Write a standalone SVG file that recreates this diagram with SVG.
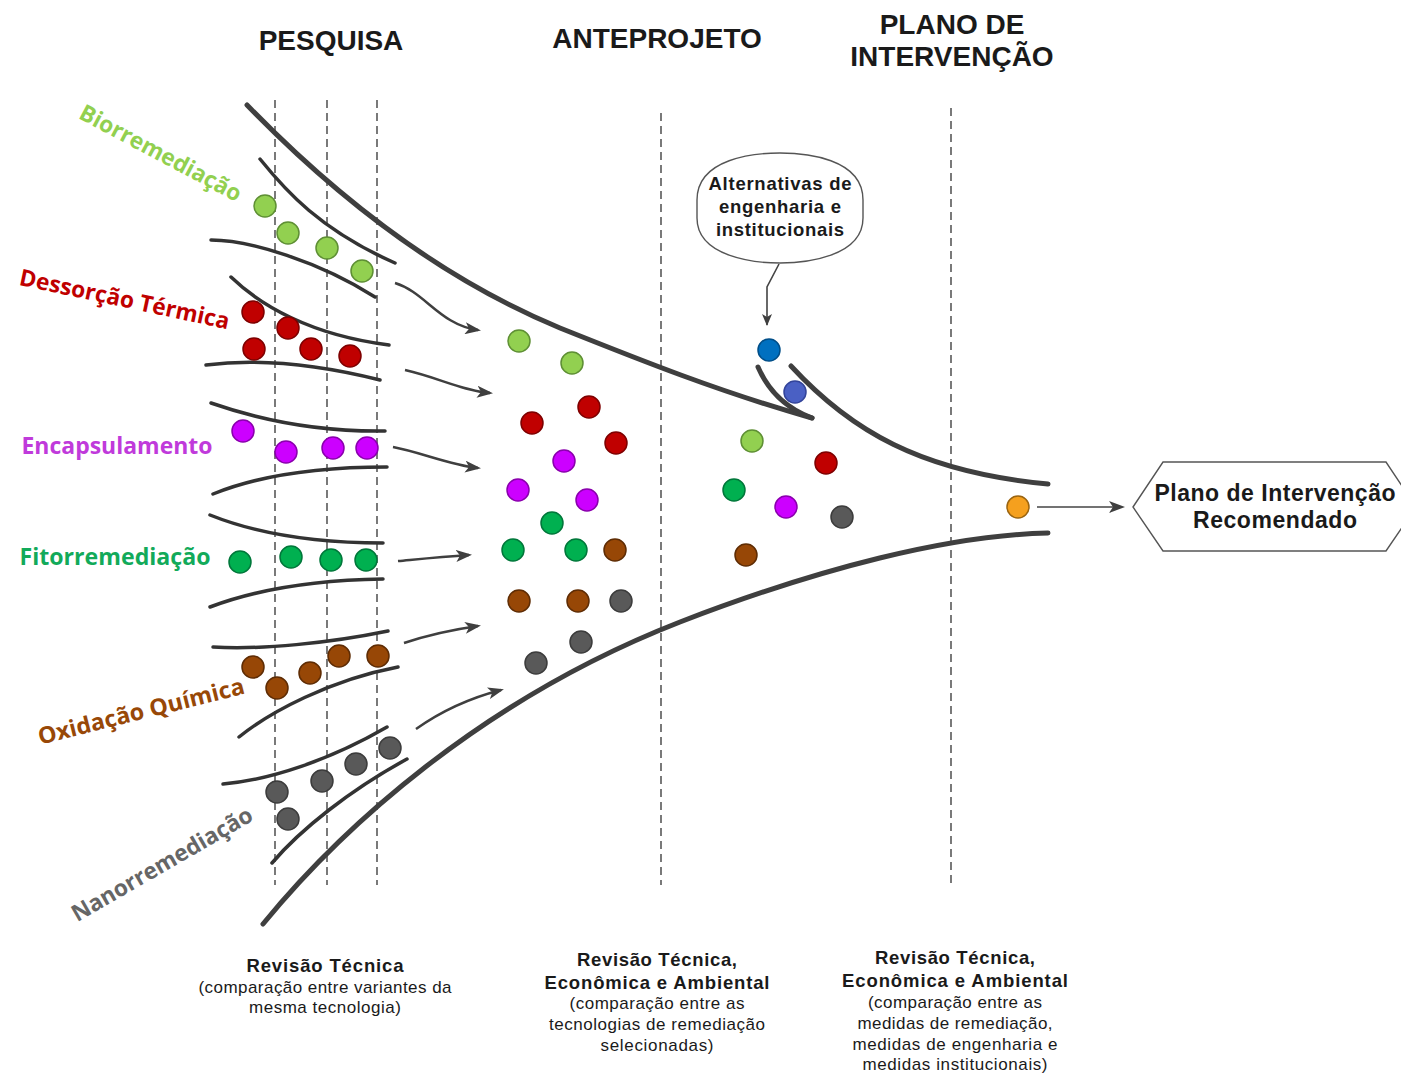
<svg xmlns="http://www.w3.org/2000/svg" width="1401" height="1074" viewBox="0 0 1401 1074">
<style>
.bg{fill:#fff}
.title{font-family:"Liberation Sans",Arial,sans-serif;font-weight:bold;font-size:28px;fill:#1a1a1a;text-anchor:middle}
.dash{stroke:#333;stroke-width:1.3;stroke-dasharray:8 5;fill:none}
.outer{stroke:#3f3f3f;stroke-width:5;fill:none;stroke-linecap:round}
.inner{stroke:#333;stroke-width:3.5;fill:none;stroke-linecap:round}
.arr{stroke:#3f3f3f;stroke-width:2.5;fill:none;marker-end:url(#ah)}
.thin{stroke:#444;stroke-width:1.6;fill:none}
.lab{font-family:"Open Sans","Lato",sans-serif;font-weight:700;font-size:23px;text-anchor:middle}
.cap{font-family:"Liberation Sans",Arial,sans-serif;font-size:17px;fill:#1a1a1a;text-anchor:middle}
.b{font-weight:bold;font-size:18.5px}
.big{font-family:"Liberation Sans",Arial,sans-serif;font-weight:bold;font-size:23px;fill:#1a1a1a;text-anchor:middle}
.d{stroke-width:1.5}
.lg{fill:#92D050;stroke:#5E8F34}
.rd{fill:#C00000;stroke:#7E0000}
.mg{fill:#CC00FF;stroke:#8A00AD}
.gr{fill:#00B050;stroke:#00773A}
.br{fill:#974706;stroke:#5E2C04}
.gy{fill:#595959;stroke:#3C3C3C}
.bl{fill:#0070C0;stroke:#004E88}
.pw{fill:#4A60C4;stroke:#33449A}
.or{fill:#F5A01E;stroke:#9A6410}
</style>
<defs>
<marker id="ah" viewBox="0 0 16 12" refX="13" refY="6" markerWidth="16" markerHeight="12" markerUnits="userSpaceOnUse" orient="auto">
<path d="M0,0 L16,6 L0,12 L4,6 Z" fill="#3f3f3f"/>
</marker>
<marker id="ahs" viewBox="0 0 12 10" refX="11" refY="5" markerWidth="12" markerHeight="10" markerUnits="userSpaceOnUse" orient="auto">
<path d="M0,0 L12,5 L0,10 L3,5 Z" fill="#3f3f3f"/>
</marker>
</defs>
<rect class="bg" x="0" y="0" width="1401" height="1074"/>

<g id="titles">
<text class="title" x="331" y="50">PESQUISA</text>
<text class="title" x="657" y="48">ANTEPROJETO</text>
<text class="title" x="952" y="34">PLANO DE</text>
<text class="title" x="952" y="66">INTERVENÇÃO</text>
</g>

<g id="dividers">
<line class="dash" x1="275" y1="100" x2="275" y2="885"/>
<line class="dash" x1="327" y1="100" x2="327" y2="885"/>
<line class="dash" x1="377" y1="100" x2="377" y2="885"/>
<line class="dash" x1="661" y1="113" x2="661" y2="885"/>
<line class="dash" x1="951" y1="108" x2="951" y2="885"/>
</g>

<g id="funnel">
<path class="outer" d="M247,105 C310,170 420,270 560,328 C640,360 720,392 812,418"/>
<path class="outer" d="M263,924 C340,830 480,700 680,622 C820,568 950,535 1048,533"/>
<path class="outer" d="M791,366 C850,430 920,472 1048,484"/>
<path class="outer" d="M758,367 C768,390 785,408 812,418"/>
<path class="inner" d="M260,159 C285,190 320,230 395,263"/>
<path class="inner" d="M211,240 C250,240 320,262 375,297"/>
<path class="inner" d="M231,277 C260,305 310,335 389,345"/>
<path class="inner" d="M206,365 C260,358 320,365 380,380"/>
<path class="inner" d="M211,403 C260,420 320,432 385,431"/>
<path class="inner" d="M213,494 C260,475 320,467 387,467"/>
<path class="inner" d="M210,515 C260,535 320,543 383,543"/>
<path class="inner" d="M210,607 C260,588 320,580 383,579"/>
<path class="inner" d="M213,647 C260,650 330,643 388,631"/>
<path class="inner" d="M239,737 C270,712 330,680 398,667"/>
<path class="inner" d="M223,784 C270,780 330,760 387,727"/>
<path class="inner" d="M272,863 C300,830 350,790 407,759"/>
</g>

<g id="connectors">
<path class="arr" d="M395,283 C425,292 440,325 478,330"/>
<path class="arr" d="M405,370 C440,378 460,390 490,393"/>
<path class="arr" d="M393,447 C420,452 450,465 478,468"/>
<path class="arr" d="M398,561 C420,559 440,557 469,555"/>
<path class="arr" d="M404,643 C425,636 450,630 478,626"/>
<path class="arr" d="M416,729 C440,712 470,698 501,690"/>
<path class="thin" d="M779,264 L767,287 L767,325" marker-end="url(#ahs)"/>
<path class="thin" d="M1037,507 L1122,507" stroke-width="2" marker-end="url(#ah)"/>
</g>

<g id="labels">
<text class="lab" fill="#92D050" transform="translate(157,160) rotate(28)" textLength="180" lengthAdjust="spacingAndGlyphs">Biorremediação</text>
<text class="lab" fill="#C00000" transform="translate(123,307) rotate(12)" textLength="214" lengthAdjust="spacingAndGlyphs">Dessorção Térmica</text>
<text class="lab" fill="#C03ADB" x="117" y="454" textLength="191" lengthAdjust="spacingAndGlyphs">Encapsulamento</text>
<text class="lab" fill="#12AA5A" x="115" y="565" textLength="191" lengthAdjust="spacingAndGlyphs">Fitorremediação</text>
<text class="lab" fill="#984807" transform="translate(143,719) rotate(-14)" textLength="212" lengthAdjust="spacingAndGlyphs">Oxidação Química</text>
<text class="lab" fill="#666666" transform="translate(166,871) rotate(-30)" textLength="205" lengthAdjust="spacingAndGlyphs">Nanorremediação</text>
</g>

<g id="dots-pesquisa">
<circle class="d lg" cx="265" cy="206" r="11"/>
<circle class="d lg" cx="288" cy="233" r="11"/>
<circle class="d lg" cx="327" cy="248" r="11"/>
<circle class="d lg" cx="362" cy="271" r="11"/>
<circle class="d rd" cx="253" cy="312" r="11"/>
<circle class="d rd" cx="288" cy="328" r="11"/>
<circle class="d rd" cx="254" cy="349" r="11"/>
<circle class="d rd" cx="311" cy="349" r="11"/>
<circle class="d rd" cx="350" cy="356" r="11"/>
<circle class="d mg" cx="243" cy="431" r="11"/>
<circle class="d mg" cx="286" cy="452" r="11"/>
<circle class="d mg" cx="333" cy="448" r="11"/>
<circle class="d mg" cx="367" cy="448" r="11"/>
<circle class="d gr" cx="240" cy="562" r="11"/>
<circle class="d gr" cx="291" cy="557" r="11"/>
<circle class="d gr" cx="331" cy="560" r="11"/>
<circle class="d gr" cx="366" cy="560" r="11"/>
<circle class="d br" cx="253" cy="667" r="11"/>
<circle class="d br" cx="277" cy="688" r="11"/>
<circle class="d br" cx="310" cy="673" r="11"/>
<circle class="d br" cx="339" cy="656" r="11"/>
<circle class="d br" cx="378" cy="656" r="11"/>
<circle class="d gy" cx="277" cy="792" r="11"/>
<circle class="d gy" cx="288" cy="819" r="11"/>
<circle class="d gy" cx="322" cy="781" r="11"/>
<circle class="d gy" cx="356" cy="764" r="11"/>
<circle class="d gy" cx="390" cy="748" r="11"/>
</g>

<g id="dots-anteprojeto">
<circle class="d lg" cx="519" cy="341" r="11"/>
<circle class="d lg" cx="572" cy="363" r="11"/>
<circle class="d rd" cx="589" cy="407" r="11"/>
<circle class="d rd" cx="532" cy="423" r="11"/>
<circle class="d rd" cx="616" cy="443" r="11"/>
<circle class="d mg" cx="564" cy="461" r="11"/>
<circle class="d mg" cx="518" cy="490" r="11"/>
<circle class="d mg" cx="587" cy="500" r="11"/>
<circle class="d gr" cx="552" cy="523" r="11"/>
<circle class="d gr" cx="513" cy="550" r="11"/>
<circle class="d gr" cx="576" cy="550" r="11"/>
<circle class="d br" cx="615" cy="550" r="11"/>
<circle class="d br" cx="519" cy="601" r="11"/>
<circle class="d br" cx="578" cy="601" r="11"/>
<circle class="d gy" cx="621" cy="601" r="11"/>
<circle class="d gy" cx="581" cy="642" r="11"/>
<circle class="d gy" cx="536" cy="663" r="11"/>
</g>

<g id="dots-plano">
<circle class="d bl" cx="769" cy="350" r="11"/>
<circle class="d pw" cx="795" cy="392" r="11"/>
<circle class="d lg" cx="752" cy="441" r="11"/>
<circle class="d rd" cx="826" cy="463" r="11"/>
<circle class="d gr" cx="734" cy="490" r="11"/>
<circle class="d mg" cx="786" cy="507" r="11"/>
<circle class="d gy" cx="842" cy="517" r="11"/>
<circle class="d br" cx="746" cy="555" r="11"/>
<circle class="d or" cx="1018" cy="507" r="11"/>
</g>

<g id="callout">
<path d="M697,200 C697,158 755,153 780,153 C805,153 863,158 863,200 L863,218 C863,257 805,263 780,263 C755,263 697,257 697,218 Z" fill="#fff" stroke="#555" stroke-width="1.4"/>
<text class="cap b" x="780" y="190" textLength="143" lengthAdjust="spacing">Alternativas de</text>
<text class="cap b" x="780" y="213" textLength="122" lengthAdjust="spacing">engenharia e</text>
<text class="cap b" x="780" y="236" textLength="128" lengthAdjust="spacing">institucionais</text>
</g>

<g id="resultado">
<polygon points="1133,507 1163,462 1386,462 1416,507 1386,551 1163,551" fill="#fff" stroke="#555" stroke-width="1.4"/>
<text class="big" x="1275" y="501" textLength="241" lengthAdjust="spacing">Plano de Intervenção</text>
<text class="big" x="1275" y="528" textLength="164" lengthAdjust="spacing">Recomendado</text>
</g>

<g id="notes">
<text class="cap b" x="325" y="972" textLength="157" lengthAdjust="spacing">Revisão Técnica</text>
<text class="cap" x="325" y="993" textLength="253" lengthAdjust="spacing">(comparação entre variantes da</text>
<text class="cap" x="325" y="1013" textLength="152" lengthAdjust="spacing">mesma tecnologia)</text>

<text class="cap b" x="657" y="966" textLength="160" lengthAdjust="spacing">Revisão Técnica,</text>
<text class="cap b" x="657" y="989" textLength="225" lengthAdjust="spacing">Econômica e Ambiental</text>
<text class="cap" x="657" y="1009" textLength="175" lengthAdjust="spacing">(comparação entre as</text>
<text class="cap" x="657" y="1030" textLength="216" lengthAdjust="spacing">tecnologias de remediação</text>
<text class="cap" x="657" y="1051" textLength="113" lengthAdjust="spacing">selecionadas)</text>

<text class="cap b" x="955" y="964" textLength="160" lengthAdjust="spacing">Revisão Técnica,</text>
<text class="cap b" x="955" y="987" textLength="226" lengthAdjust="spacing">Econômica e Ambiental</text>
<text class="cap" x="955" y="1008" textLength="174" lengthAdjust="spacing">(comparação entre as</text>
<text class="cap" x="955" y="1029" textLength="195" lengthAdjust="spacing">medidas de remediação,</text>
<text class="cap" x="955" y="1050" textLength="205" lengthAdjust="spacing">medidas de engenharia e</text>
<text class="cap" x="955" y="1070" textLength="185" lengthAdjust="spacing">medidas institucionais)</text>
</g>
</svg>
